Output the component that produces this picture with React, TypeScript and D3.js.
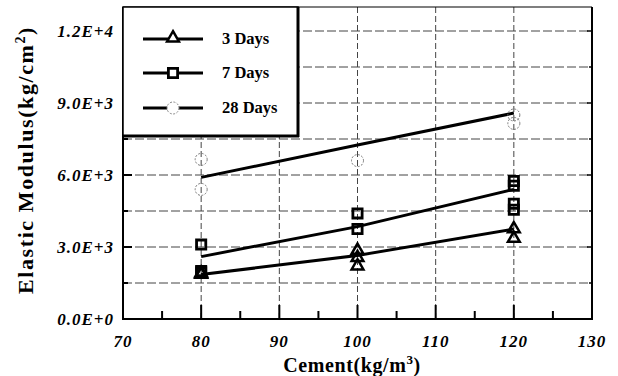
import React, { useRef, useEffect } from 'react';
import * as d3 from 'd3';

// data
const cementLevels = [80, 100, 120];
const days3Points: [number, number][] = [
  [80, 1950], [80, 1900],
  [100, 2900], [100, 2600], [100, 2250],
  [120, 3800], [120, 3400],
];
const days7Points: [number, number][] = [
  [80, 3100], [80, 1950], [80, 2000],
  [100, 4400], [100, 3750],
  [120, 5750], [120, 5550], [120, 4800], [120, 4550],
];
const days28Points: [number, number][] = [
  [80, 6650], [80, 5400],
  [100, 6600],
  [120, 8500], [120, 8150],
];
const days3Line = [1850, 2650, 3750];
const days7Line = [2600, 3850, 5400];
const days28Line = [5900, 7250, 8580];
const yTickValues = [0, 3000, 6000, 9000, 12000];
const yTickLabels = ['0.0E+0', '3.0E+3', '6.0E+3', '9.0E+3', '1.2E+4'];
const xTickValues = [70, 80, 90, 100, 110, 120, 130];
const legendLabels = ['3 Days', '7 Days', '28 Days'];

const App = () => {
  const svgRef = useRef<SVGSVGElement>(null);

  useEffect(() => {
    if (!svgRef.current) return;
    const svg = d3.select(svgRef.current);
    svg.selectAll('*').remove();

    const width = 618;
    const height = 376;
    const left = 123, right = 592, top = 7, bottom = 319;

    const x = d3.scaleLinear().domain([70, 130]).range([left, right]);
    const y = d3.scaleLinear().domain([0, 13000]).range([bottom, top]);

    svg.attr('width', width).attr('height', height).style('background', '#fff');

    const serif = '"Liberation Serif", "Times New Roman", serif';

    // grid
    const grid = svg.append('g');
    d3.range(1500, 13000, 1500).forEach(v => {
      grid.append('line')
        .attr('x1', left).attr('x2', right)
        .attr('y1', y(v)).attr('y2', y(v))
        .attr('stroke', '#444').attr('stroke-width', 1)
        .attr('stroke-dasharray', '9,3');
    });
    [80, 90, 100, 110, 120].forEach(v => {
      grid.append('line')
        .attr('x1', x(v)).attr('x2', x(v))
        .attr('y1', top).attr('y2', bottom)
        .attr('stroke', '#444').attr('stroke-width', 1)
        .attr('stroke-dasharray', '6,3');
    });

    // frame
    svg.append('line').attr('x1', left).attr('x2', right).attr('y1', top).attr('y2', top)
      .attr('stroke', '#000').attr('stroke-width', 1.2);
    svg.append('line').attr('x1', right).attr('x2', right).attr('y1', top).attr('y2', bottom)
      .attr('stroke', '#000').attr('stroke-width', 2);
    svg.append('line').attr('x1', left).attr('x2', left).attr('y1', top).attr('y2', bottom + 1)
      .attr('stroke', '#000').attr('stroke-width', 2);
    svg.append('line').attr('x1', left - 1).attr('x2', right + 1).attr('y1', bottom).attr('y2', bottom)
      .attr('stroke', '#000').attr('stroke-width', 2.2);

    // ticks (inward)
    d3.range(1500, 13000, 1500).forEach(v => {
      const major = v % 3000 === 0;
      svg.append('line').attr('x1', left).attr('x2', left + (major ? 9 : 5))
        .attr('y1', y(v)).attr('y2', y(v)).attr('stroke', '#000').attr('stroke-width', 2);
      svg.append('line').attr('x1', right).attr('x2', right - (major ? 5 : 3))
        .attr('y1', y(v)).attr('y2', y(v)).attr('stroke', '#000').attr('stroke-width', 1.5);
    });
    d3.range(75, 130, 5).forEach(v => {
      const major = v % 10 === 0;
      svg.append('line').attr('x1', x(v)).attr('x2', x(v))
        .attr('y1', bottom).attr('y2', bottom - (major ? 14 : 8))
        .attr('stroke', '#000').attr('stroke-width', 2);
    });

    // tick labels
    svg.append('g').selectAll('text').data(yTickValues).join('text')
      .attr('x', left - 9).attr('y', d => y(d) + 6)
      .attr('text-anchor', 'end')
      .attr('font-family', serif).attr('font-style', 'italic').attr('font-weight', 'bold')
      .attr('font-size', 17).attr('letter-spacing', 1)
      .text((d, i) => yTickLabels[i]);
    svg.append('g').selectAll('text').data(xTickValues).join('text')
      .attr('x', d => x(d)).attr('y', 347)
      .attr('text-anchor', 'middle')
      .attr('font-family', serif).attr('font-style', 'italic').attr('font-weight', 'bold')
      .attr('font-size', 17).attr('letter-spacing', 1)
      .text(d => String(d));

    // axis titles
    const xt = svg.append('text').attr('x', 352).attr('y', 372).attr('text-anchor', 'middle')
      .attr('font-family', serif).attr('font-weight', 'bold').attr('font-size', 20)
      .attr('letter-spacing', 0.6);
    xt.append('tspan').text('Cement(kg/m');
    xt.append('tspan').attr('font-size', 13).attr('dy', -8).text('3');
    xt.append('tspan').attr('dy', 8).text(')');

    const yt = svg.append('text')
      .attr('transform', `translate(33,${160}) rotate(-90)`)
      .attr('text-anchor', 'middle')
      .attr('font-family', serif).attr('font-weight', 'bold').attr('font-size', 22)
      .attr('letter-spacing', 1.6);
    yt.append('tspan').text('Elastic Modulus(kg/cm');
    yt.append('tspan').attr('font-size', 14).attr('dy', -8).text('2');
    yt.append('tspan').attr('dy', 8).text(')');

    // fitted lines
    const line = d3.line<number>().x((d, i) => x(cementLevels[i])).y(d => y(d));
    [days3Line, days7Line, days28Line].forEach(s => {
      svg.append('path').datum(s).attr('d', line)
        .attr('fill', 'none').attr('stroke', '#000').attr('stroke-width', 3);
    });

    // markers
    const tri = d3.symbol().type(d3.symbolTriangle).size(60);
    const sq = d3.symbol().type(d3.symbolSquare).size(85);
    const pts = svg.append('g');
    pts.selectAll('path.sq').data(days7Points).join('path').attr('class', 'sq')
      .attr('d', sq).attr('transform', d => `translate(${x(d[0])},${y(d[1])})`)
      .attr('fill', 'none').attr('stroke', '#000').attr('stroke-width', 2.8);
    pts.selectAll('path.tri').data(days3Points).join('path').attr('class', 'tri')
      .attr('d', tri).attr('transform', d => `translate(${x(d[0])},${y(d[1]) + 1})`)
      .attr('fill', 'none').attr('stroke', '#000').attr('stroke-width', 2.5);
    pts.selectAll('circle').data(days28Points).join('circle')
      .attr('cx', d => x(d[0])).attr('cy', d => y(d[1])).attr('r', 6)
      .attr('fill', 'none').attr('stroke', '#777').attr('stroke-width', 1)
      .attr('stroke-dasharray', '2,1.5');

    // legend
    const lg = svg.append('g');
    lg.append('rect').attr('x', left).attr('y', top).attr('width', 175).attr('height', 129)
      .attr('fill', '#fff').attr('stroke', '#000').attr('stroke-width', 1.5);
    lg.append('line').attr('x1', left + 175).attr('x2', left + 175).attr('y1', top).attr('y2', top + 130)
      .attr('stroke', '#000').attr('stroke-width', 3);
    lg.append('line').attr('x1', left).attr('x2', left + 176).attr('y1', top + 129).attr('y2', top + 129)
      .attr('stroke', '#000').attr('stroke-width', 3);
    const rowY = [39, 73, 108];
    legendLabels.forEach((lab, i) => {
      lg.append('line').attr('x1', 143).attr('x2', 203).attr('y1', rowY[i]).attr('y2', rowY[i])
        .attr('stroke', '#000').attr('stroke-width', 3);
      if (i === 0) {
        lg.append('path').attr('d', tri).attr('transform', `translate(173,${rowY[i] - 1})`)
          .attr('fill', '#fff').attr('stroke', '#000').attr('stroke-width', 2.5);
      } else if (i === 1) {
        lg.append('path').attr('d', sq).attr('transform', `translate(173,${rowY[i]})`)
          .attr('fill', '#fff').attr('stroke', '#000').attr('stroke-width', 2.8);
      } else {
        lg.append('circle').attr('cx', 173).attr('cy', rowY[i]).attr('r', 6)
          .attr('fill', '#fff').attr('stroke', '#888').attr('stroke-width', 1)
          .attr('stroke-dasharray', '2,1.5');
      }
      lg.append('text').attr('x', 222).attr('y', rowY[i] + 5)
        .attr('font-family', serif).attr('font-weight', 'bold').attr('font-size', 16.5)
        .text(lab);
    });
  }, []);

  return (
    <svg ref={svgRef} style={{ position: 'absolute', left: 0, top: 0 }}></svg>
  );
};

export default App;
